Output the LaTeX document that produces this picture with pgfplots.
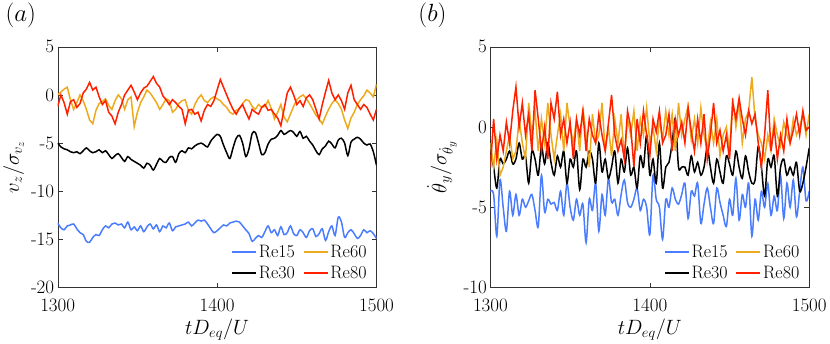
\documentclass[border=0pt]{standalone}
\usepackage{pgfplots}
\pgfplotsset{compat=1.18}
\usepackage{pgfplotstable}

\definecolor{cblue}{RGB}{74,124,255}
\definecolor{corange}{RGB}{237,170,30}
\definecolor{cred}{RGB}{255,32,0}

% t, Re15, Re30, Re60, Re80
\pgfplotstableread{
t re15 re30 re60 re80
1300 -13.3 -5.0 0.0 -1.2
1302 -13.8 -5.4 0.3 0.0
1304 -14.0 -5.6 0.6 -0.8
1306 -13.6 -5.7 0.8 -2.0
1308 -13.5 -5.9 -0.5 -0.7
1310 -13.4 -6.0 -1.5 -0.5
1312 -13.9 -5.9 -0.8 -1.3
1314 -14.3 -6.1 0.0 -0.9
1316 -14.5 -5.8 -0.6 0.2
1318 -15.2 -5.5 -1.5 0.6
1320 -15.3 -5.8 -2.6 1.3
1322 -14.8 -6.0 -3.0 0.5
1324 -14.5 -5.9 -1.6 0.8
1326 -14.6 -5.7 -0.9 -0.2
1328 -14.0 -6.0 -0.7 -1.0
1330 -13.6 -5.8 -0.4 -0.6
1332 -13.8 -6.2 -1.1 -1.8
1334 -13.4 -6.6 -1.5 -2.2
1336 -13.3 -6.3 -0.6 -3.0
1338 -13.5 -6.1 0.0 -1.8
1340 -13.4 -6.5 -0.4 -1.0
1342 -13.8 -6.9 -1.5 0.0
1344 -13.2 -6.4 -0.5 0.5
1346 -14.0 -6.7 -0.2 1.0
1348 -13.7 -6.9 -3.3 0.3
1350 -14.1 -7.1 -1.8 -0.5
1352 -13.6 -7.3 -0.8 0.2
1354 -14.2 -7.6 -0.2 0.7
1356 -13.7 -7.1 0.5 0.9
1358 -13.4 -7.3 0.2 1.4
1360 -13.9 -7.8 -0.3 1.9
1362 -13.5 -7.2 -0.8 1.2
1364 -14.2 -6.6 -1.5 0.8
1366 -13.6 -6.9 -1.0 -0.1
1368 -13.8 -7.0 -0.4 -0.5
1370 -13.3 -6.5 -0.6 -1.0
1372 -14.1 -6.4 -1.8 -0.5
1374 -13.7 -7.0 -1.5 -0.8
1376 -13.6 -6.1 -0.9 -1.2
1378 -13.5 -5.8 -0.6 -1.5
1380 -13.4 -6.0 -0.5 -3.0
1382 -13.2 -5.5 -1.6 -1.6
1384 -13.6 -5.6 -2.0 -1.5
1386 -13.3 -5.3 -1.0 -2.0
1388 -13.0 -5.1 -0.4 -1.8
1390 -13.1 -5.0 0.0 -2.7
1392 -13.0 -5.2 -0.6 -1.6
1394 -13.4 -5.4 -0.8 -1.0
1396 -13.9 -4.8 -0.4 -1.2
1398 -14.3 -4.4 -0.2 -0.6
1400 -14.1 -4.1 -0.4 0.5
1402 -13.8 -4.3 -0.6 1.6
1404 -13.5 -5.2 -1.0 0.8
1406 -13.6 -6.0 -1.3 0.0
1408 -13.3 -6.6 -1.8 -0.8
1410 -13.2 -5.5 -2.0 -1.5
1412 -13.1 -4.5 -1.6 -2.0
1414 -13.2 -4.2 -1.4 -1.4
1416 -13.6 -5.0 -0.9 -1.0
1418 -14.0 -6.4 -0.5 -1.8
1420 -14.4 -5.6 -0.6 -2.5
1422 -15.2 -4.0 -1.2 -1.5
1424 -14.9 -3.9 -1.5 -1.8
1426 -14.6 -5.0 -1.0 -2.0
1428 -14.8 -6.2 -1.3 -1.3
1430 -14.2 -6.0 -1.2 -1.0
1432 -13.6 -5.1 -0.6 -1.6
1434 -14.3 -4.6 -1.4 -1.5
1436 -14.0 -4.5 -2.5 -2.0
1438 -14.6 -4.2 -1.8 -2.4
1440 -13.7 -3.7 -1.0 -3.2
1442 -14.5 -4.1 -2.3 -1.5
1444 -14.3 -3.9 -2.8 0.2
1446 -13.6 -3.7 -2.0 0.8
1448 -14.4 -3.9 -1.2 0.0
1450 -14.6 -4.3 -0.5 -1.0
1452 -14.0 -3.8 -0.2 -0.6
1454 -14.3 -4.5 0.0 -1.2
1456 -14.8 -4.3 -0.4 -0.3
1458 -14.1 -4.8 -0.9 0.0
1460 -13.9 -5.2 -1.5 -0.5
1462 -14.7 -5.8 -2.1 -1.5
1464 -14.4 -6.2 -2.5 -2.5
1466 -13.9 -5.6 -3.0 -1.0
1468 -15.1 -5.3 -2.2 0.3
1470 -14.2 -4.8 -1.5 1.5
1472 -13.6 -5.1 -0.9 0.2
1474 -14.6 -5.5 -0.5 -0.5
1476 -12.7 -4.7 -0.9 0.0
1478 -13.2 -4.5 -1.5 -0.6
1480 -14.8 -5.0 -2.6 -1.5
1482 -14.3 -6.3 -3.5 0.2
1484 -14.0 -4.9 -2.4 1.0
1486 -14.4 -4.6 -1.8 -0.5
1488 -14.9 -4.4 -1.0 -1.0
1490 -14.6 -4.6 -0.5 -1.5
1492 -14.0 -5.0 -0.1 -1.0
1494 -14.3 -5.2 0.5 -1.3
1496 -14.1 -5.1 0.2 -2.0
1498 -14.4 -5.9 -0.2 -2.6
1500 -14.9 -7.3 1.1 -1.5
}\vztable

\pgfplotstableread{
t re15 re30 re60 re80
1300 -4.0 -1.5 -1.0 -2.5
1302 -4.2 -2.5 -2.5 0.5
1304 -6.8 -3.8 -0.8 -2.0
1306 -3.3 -2.0 -3.0 -0.5
1308 -5.0 -2.3 -2.5 -1.5
1310 -6.5 -2.0 -1.5 0.3
1312 -4.0 -1.5 -0.5 -1.0
1314 -5.5 -2.3 -2.0 1.0
1316 -4.2 -2.0 -1.5 2.5
1318 -5.5 -1.0 0.5 0.0
1320 -4.5 -2.0 -1.0 1.5
1322 -5.0 -1.8 -2.0 -0.5
1324 -4.6 -3.5 1.5 0.8
1326 -4.2 -1.5 -0.5 -1.5
1328 -5.2 -2.0 1.0 2.3
1330 -6.2 -3.0 -1.5 0.5
1332 -3.0 -1.2 0.5 -1.5
1334 -5.3 -2.3 -1.0 0.0
1336 -4.5 -1.0 1.5 -2.0
1338 -4.8 -2.2 -0.5 1.5
1340 -4.7 -3.0 -2.0 0.5
1342 -5.2 -1.8 -0.5 2.2
1344 -4.0 -2.5 0.8 -0.5
1346 -5.5 -1.5 -1.5 0.5
1348 -3.5 -3.5 1.5 -1.0
1350 -5.0 -2.0 0.0 0.3
1352 -5.8 -2.5 -1.0 -2.0
1354 -4.5 -1.5 0.5 0.5
1356 -5.5 -3.9 -1.5 -0.5
1358 -4.8 -2.0 1.2 1.0
1360 -7.2 -2.5 -0.5 -1.5
1362 -4.5 -1.5 -2.5 0.5
1364 -5.2 -2.0 0.8 -0.5
1366 -3.5 -3.5 -1.0 -1.0
1368 -6.5 -1.0 -0.5 0.8
1370 -4.2 -2.8 1.5 -0.5
1372 -5.5 -2.0 -1.5 -1.5
1374 -3.2 -3.2 0.0 0.2
1376 -4.7 -2.5 -1.8 2.0
1378 -4.5 -1.5 0.5 -0.5
1380 -5.5 -3.5 -1.0 -1.5
1382 -4.2 -2.0 0.8 -0.8
1384 -3.3 -2.8 -2.0 -2.0
1386 -4.7 -1.3 0.5 1.0
1388 -5.0 -3.0 -0.5 0.0
1390 -4.5 -2.5 1.0 -2.5
1392 -3.8 -3.8 -1.5 0.5
1394 -5.2 -1.8 0.5 -1.0
1396 -4.5 -2.5 -0.5 1.0
1398 -5.0 -0.5 1.2 -0.5
1400 -6.7 -3.0 -1.0 -1.8
1402 -3.0 -2.0 0.0 0.5
1404 -4.5 -3.5 -1.5 -0.3
1406 -5.0 -1.0 0.5 1.0
1408 -7.0 -3.8 -0.8 -1.0
1410 -4.5 -2.5 1.0 -0.5
1412 -5.0 -2.2 -0.5 0.8
1414 -3.8 -1.0 0.8 -1.5
1416 -4.5 0.5 -1.5 0.5
1418 -4.8 -2.5 1.5 -0.5
1420 -4.2 -2.5 -0.5 0.3
1422 -3.5 -2.5 0.5 -1.0
1424 -5.7 -3.0 1.3 1.2
1426 -4.0 -1.8 -0.8 -0.3
1428 -4.3 -2.8 0.5 -1.5
1430 -3.5 -2.2 -1.0 0.5
1432 -6.0 -3.0 1.2 -1.0
1434 -4.8 -2.5 -0.5 0.8
1436 -3.8 -1.3 -1.5 -2.0
1438 -5.0 -2.5 0.3 -0.5
1440 -6.0 -3.5 -1.0 1.5
1442 -3.8 -2.0 0.5 -1.0
1444 -4.7 -2.8 -1.8 -0.2
1446 -5.5 -3.5 -0.5 -1.5
1448 -6.2 -1.8 0.0 -0.5
1450 -4.5 -2.3 -1.5 -2.0
1452 -5.5 -3.0 1.8 1.5
1454 -3.2 -1.5 0.0 0.5
1456 -5.8 -2.5 1.5 1.8
1458 -4.2 -3.2 -1.0 0.5
1460 -5.0 -1.8 0.5 -0.5
1462 -3.5 -2.8 1.0 1.0
1464 -6.8 -3.5 3.1 0.2
1466 -4.5 -3.3 0.5 0.8
1468 -5.8 -1.2 -0.5 -1.0
1470 -4.0 -2.5 -1.0 -2.5
1472 -5.0 -4.3 -2.0 -0.5
1474 -3.5 -2.0 -0.5 2.3
1476 -5.5 -2.5 -1.5 -1.5
1478 -4.3 -1.8 0.5 0.0
1480 -5.2 -4.3 -0.5 -2.0
1482 -3.0 -2.5 -1.2 -0.5
1484 -5.7 -2.0 0.3 -1.5
1486 -3.5 -3.0 -0.5 0.5
1488 -5.0 -2.5 -1.0 -1.0
1490 -3.3 -3.0 0.5 -0.2
1492 -5.6 -2.2 -0.5 0.8
1494 -4.0 -4.0 0.0 -0.5
1496 -2.5 -3.5 0.8 1.0
1498 -4.6 -2.5 -0.5 -0.2
1500 -4.0 -1.3 0.8 0.0
}\thtable

\pgfplotsset{
  panel/.style={
    scale only axis, width=319pt, height=241pt,
    xmin=1300, xmax=1500,
    xtick={1300,1400,1500}, xticklabels={1300,1400,1500},
    tick align=inside, tick pos=both, major tick length=5pt,
    axis line style={black!80}, every tick/.style={black!80},
    tick label style={font=\fontsize{19}{21}\selectfont},
    xticklabel style={yshift=-8pt},
    label style={font=\fontsize{22}{24}\selectfont},
    xlabel={$tD_{eq}/U$},
    legend style={at={(rel axis cs:0.985,0.015)}, anchor=south east,
      draw=none, fill=none, font=\fontsize{18}{20}\selectfont,
      legend columns=2, row sep=3pt,
      /tikz/every even column/.append style={column sep=6pt}},
    legend cell align=left,
    legend image code/.code={\draw[##1] (0pt,0pt) -- (24pt,0pt);},
    every axis plot/.append style={line width=1.5pt},
  },
}

\begin{document}
\begin{tikzpicture}
\begin{axis}[panel, name=A, ymin=-20, ymax=5,
  ytick={-20,-15,-10,-5,0,5}, yticklabels={-20,-15,-10,-5,0,5},
  ylabel={$v_z/\sigma_{v_z}$}]
\addlegendimage{cblue, line width=1.5pt}\addlegendentry{Re15}
\addlegendimage{corange, line width=1.5pt}\addlegendentry{Re60}
\addlegendimage{black, line width=1.5pt}\addlegendentry{Re30}
\addlegendimage{cred, line width=1.5pt}\addlegendentry{Re80}
\addplot[cblue, smooth, forget plot] table[x=t, y=re15] {\vztable};
\addplot[black, smooth, forget plot] table[x=t, y=re30] {\vztable};
\addplot[corange, forget plot] table[x=t, y=re60] {\vztable};
\addplot[cred, forget plot] table[x=t, y=re80] {\vztable};
\end{axis}
\begin{axis}[panel, name=B, at={(433pt,0)}, ymin=-10, ymax=5,
  ytick={-10,-5,0,5}, yticklabels={-10,-5,0,5},
  ylabel={$\dot{\theta}_y/\sigma_{\dot{\theta}_y}$}]
\addlegendimage{cblue, line width=1.5pt}\addlegendentry{Re15}
\addlegendimage{corange, line width=1.5pt}\addlegendentry{Re60}
\addlegendimage{black, line width=1.5pt}\addlegendentry{Re30}
\addlegendimage{cred, line width=1.5pt}\addlegendentry{Re80}
\addplot[cblue, smooth, forget plot] table[x=t, y=re15] {\thtable};
\addplot[black, smooth, forget plot] table[x=t, y=re30] {\thtable};
\addplot[corange, forget plot] table[x=t, y=re60] {\thtable};
\addplot[cred, forget plot] table[x=t, y=re80] {\thtable};
\end{axis}
\node[font=\fontsize{28}{30}\selectfont] at ([xshift=-37pt,yshift=31pt]A.north west) {$(a)$};
\node[font=\fontsize{28}{30}\selectfont] at ([xshift=-58pt,yshift=31pt]B.north west) {$(b)$};
\end{tikzpicture}
\end{document}
